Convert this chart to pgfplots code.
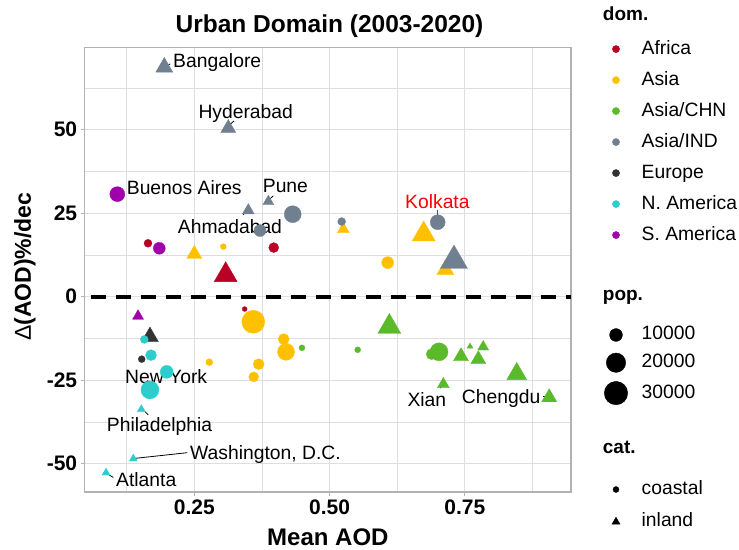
\documentclass[border=0pt]{standalone}
\usepackage{pgfplots}
\pgfplotsset{compat=1.18}
\usepackage{fontspec}
\setmainfont{Liberation Sans}
\definecolor{africa}{RGB}{187,0,38}
\definecolor{asia}{RGB}{255,192,0}
\definecolor{chn}{RGB}{91,186,42}
\definecolor{ind}{RGB}{112,128,144}
\definecolor{europe}{RGB}{51,51,51}
\definecolor{nam}{RGB}{45,205,205}
\definecolor{sam}{RGB}{160,0,170}
\definecolor{grey70}{gray}{0.70}
\definecolor{grey87}{gray}{0.87}
\newcommand\lab{\fontsize{19.3}{22}\selectfont}
\newcommand\ttl{\fontsize{19}{22}\selectfont\bfseries}
\pgfplotsset{
  grp/.style 2 args={only marks, scatter, mark=#1, point meta=y,
    scatter/use mapped color={draw=#2, fill=#2},
    mark options={line width=0.3pt},
    visualization depends on={\thisrow{r} \as \ms},
    scatter/@pre marker code/.append style={/tikz/mark size=\ms}},
  leg/.style={hide axis, scale only axis, width=1pt, height=1pt,
    xmin=0, xmax=1, ymin=0, ymax=1, anchor=north west,
    legend image code/.code={\path[draw=none] (-12pt,0pt) -- (12pt,0pt); \path[##1] plot coordinates {(0pt,0pt)};},
    legend cell align=left,
    legend style={draw=none, fill=none, inner sep=0pt, outer sep=0pt,
      at={(0,1)}, anchor=north west, row sep=#1, column sep=13.7pt, font=\lab,
      nodes={inner sep=0pt, outer sep=0pt, text height=14pt, text depth=4pt}}}
}
\begin{document}
\begin{tikzpicture}[x=1pt,y=1pt]
\path[use as bounding box] (0,0) rectangle (739,549);
\begin{axis}[
  at={(84.7pt,57pt)}, anchor=south west, scale only axis,
  width=486.3pt, height=444.7pt,
  xmin=0.0474, xmax=0.9463, ymin=-58.47, ymax=74.67,
  axis line style={draw=grey70, line width=1.2pt},
  xtick={0.25,0.5,0.75}, ytick={-50,-25,0,25,50},
  minor xtick={0.125,0.375,0.625,0.875},
  minor ytick={-37.5,-12.5,12.5,37.5,62.5},
  grid=both,
  major grid style={draw=grey87, line width=0.9pt},
  minor grid style={draw=grey87, line width=0.5pt},
  tick align=outside, major tick length=4pt, minor tick length=0pt,
  tick style={draw=grey70, line width=0.8pt},
  xtick pos=bottom, ytick pos=left,
  ticklabel style={font=\fontsize{21}{21}\selectfont\bfseries},
  xticklabel={\pgfmathprintnumber[fixed,fixed zerofill,precision=2,assume math mode=true]{\tick}},
  yticklabel={\pgfmathprintnumber[assume math mode=true]{\tick}},
  clip=false,
]
\addplot[black, line width=3.8pt, dash pattern=on 15pt off 10pt, dash phase=19pt] coordinates {(0.0474,0) (0.9463,0)};
% Africa
\addplot[grp={*}{africa}] table {
x y r
0.1644 16.0 4
0.3968 14.7 5
0.3431 -3.7 2.5
};
\addplot[grp={triangle*}{africa}] table {
x y r
0.308 6.5 13.3
};
% Asia
\addplot[grp={*}{asia}] table {
x y r
0.3036 15.0 3
0.6075 10.2 6
0.359 -7.5 11.5
0.4152 -12.7 5.5
0.4195 -16.5 8.5
0.2777 -19.6 3.5
0.369 -20.2 5.5
0.3598 -24.0 5
};
\addplot[grp={triangle*}{asia}] table {
x y r
0.25 12.75 8.7
0.5254 20.2 6.9
0.674 18.7 13.3
0.714 8.1 9.8
};
% Asia/CHN
\addplot[grp={*}{chn}] table {
x y r
0.449 -15.3 3
0.552 -15.9 3
0.6888 -17.2 5.5
0.7023 -16.5 9
};
\addplot[grp={triangle*}{chn}] table {
x y r
0.6105 -9.0 13.3
0.743 -17.85 8.7
0.7596 -14.9 3.5
0.784 -15.0 6.4
0.775 -18.75 8.7
0.846 -23.1 11.5
0.7103 -26.2 6.9
0.906 -30.15 8.7
};
% Asia/IND
\addplot[grp={*}{ind}] table {
x y r
0.4319 24.7 8.5
0.3714 19.8 6
0.5224 22.5 4
0.6999 22.3 7.5
};
\addplot[grp={triangle*}{ind}] table {
x y r
0.1945 68.7 9.8
0.3128 50.45 8.7
0.3868 28.5 6.4
0.3498 25.8 6.9
0.73 10.8 15.6
};
% Europe
\addplot[grp={*}{europe}] table {
x y r
0.1528 -18.7 3.5
};
\addplot[grp={triangle*}{europe}] table {
x y r
0.168 -12.0 9.8
};
% N. America
\addplot[grp={*}{nam}] table {
x y r
0.1576 -12.8 4
0.170 -17.5 5.5
0.199 -22.5 6.5
0.168 -27.9 9
};
\addplot[grp={triangle*}{nam}] table {
x y r
0.152 -33.7 4.6
0.1373 -48.5 4.6
0.0868 -52.7 4.6
};
% S. America
\addplot[grp={*}{sam}] table {
x y r
0.1077 30.7 7.5
0.1853 14.5 6
};
\addplot[grp={triangle*}{sam}] table {
x y r
0.146 -5.8 6.4
};
% leader lines
\draw[black, line width=0.8pt] (axis cs:0.198,68.9) -- (axis cs:0.2053,69.7);
\draw[black, line width=0.8pt] (axis cs:0.3147,51.4) -- (axis cs:0.3234,52.6);
\draw[black, line width=0.8pt] (axis cs:0.1095,30.7) -- (axis cs:0.1177,31.7);
\draw[black, line width=0.8pt] (axis cs:0.3838,28.4) -- (axis cs:0.396,30.2);
\draw[black, line width=0.8pt] (axis cs:0.3406,24.5) -- (axis cs:0.3469,26);
\draw[red, line width=0.8pt] (axis cs:0.6999,23) -- (axis cs:0.6999,26);
\draw[black, line width=0.8pt] (axis cs:0.1713,-27.6) -- (axis cs:0.1792,-26.4);
\draw[black, line width=0.8pt] (axis cs:0.1589,-34.4) -- (axis cs:0.165,-35.4);
\draw[black, line width=0.8pt] (axis cs:0.1404,-48.4) -- (axis cs:0.2371,-46.7);
\draw[black, line width=0.8pt] (axis cs:0.091,-53.2) -- (axis cs:0.1003,-54.1);
\draw[black, line width=0.8pt] (axis cs:0.7084,-26.4) -- (axis cs:0.7042,-27.4);
\draw[black, line width=0.8pt] (axis cs:0.8951,-29.9) -- (axis cs:0.9025,-29.9);
% labels
\begin{scope}[every node/.style={anchor=base west, inner sep=0pt, font=\lab}]
\node at (axis cs:0.2106,68.5) {Bangalore};
\node at (axis cs:0.2574,53.4) {Hyderabad};
\node at (axis cs:0.125,30.6) {Buenos Aires};
\node at (axis cs:0.3764,31.2) {Pune};
\node at (axis cs:0.2193,19.0) {Ahmadabad};
\node[text=red] at (axis cs:0.6395,26.4) {Kolkata};
\node at (axis cs:0.1219,-26.0) {New York};
\node at (axis cs:0.0881,-40.3) {Philadelphia};
\node at (axis cs:0.242,-48.8) {Washington, D.C.};
\node at (axis cs:0.1053,-56.9) {Atlanta};
\node at (axis cs:0.6437,-32.9) {Xian};
\node at (axis cs:0.7443,-32.1) {Chengdu};
\end{scope}
\end{axis}
% titles
\node[anchor=base, inner sep=0pt, font=\fontsize{24.5}{26}\selectfont\bfseries] at (329.5,516.3) {Urban Domain (2003-2020)};
\node[anchor=base, inner sep=0pt, font=\fontsize{24}{26}\selectfont\bfseries] at (327.9,4) {Mean AOD};
\node[rotate=90, anchor=center, inner sep=0pt, font=\fontsize{23}{26}\selectfont\bfseries] at (25,282.3) {{\mdseries Δ}(AOD)\%/dec};
% legend titles
\node[anchor=base west, inner sep=0pt, font=\ttl] at (602.7,528.3) {dom.};
\node[anchor=base west, inner sep=0pt, font=\ttl] at (602.7,248) {pop.};
\node[anchor=base west, inner sep=0pt, font=\ttl] at (602.7,95.7) {cat.};
% legends
\begin{axis}[leg=13pt, at={(604pt,508.9pt)}]
\addlegendimage{mark=*, color=africa, mark size=3.6pt}
\addlegendentry{Africa}
\addlegendimage{mark=*, color=asia, mark size=3.6pt}
\addlegendentry{Asia}
\addlegendimage{mark=*, color=chn, mark size=3.6pt}
\addlegendentry{Asia/CHN}
\addlegendimage{mark=*, color=ind, mark size=3.6pt}
\addlegendentry{Asia/IND}
\addlegendimage{mark=*, color=europe, mark size=3.6pt}
\addlegendentry{Europe}
\addlegendimage{mark=*, color=nam, mark size=3.6pt}
\addlegendentry{N. America}
\addlegendimage{mark=*, color=sam, mark size=3.6pt}
\addlegendentry{S. America}
\end{axis}
\begin{axis}[leg=9pt, at={(604pt,223pt)}]
\addlegendimage{mark=*, color=black, mark size=6.4pt}
\addlegendentry{10000}
\addlegendimage{mark=*, color=black, mark size=9.7pt}
\addlegendentry{20000}
\addlegendimage{mark=*, color=black, mark size=11.7pt}
\addlegendentry{30000}
\end{axis}
\begin{axis}[leg=14.3pt, at={(604pt,68.5pt)}]
\addlegendimage{mark=*, color=black, mark size=3pt}
\addlegendentry{coastal}
\addlegendimage{mark=triangle*, color=black, mark size=4.6pt}
\addlegendentry{inland}
\end{axis}
\end{tikzpicture}
\end{document}
